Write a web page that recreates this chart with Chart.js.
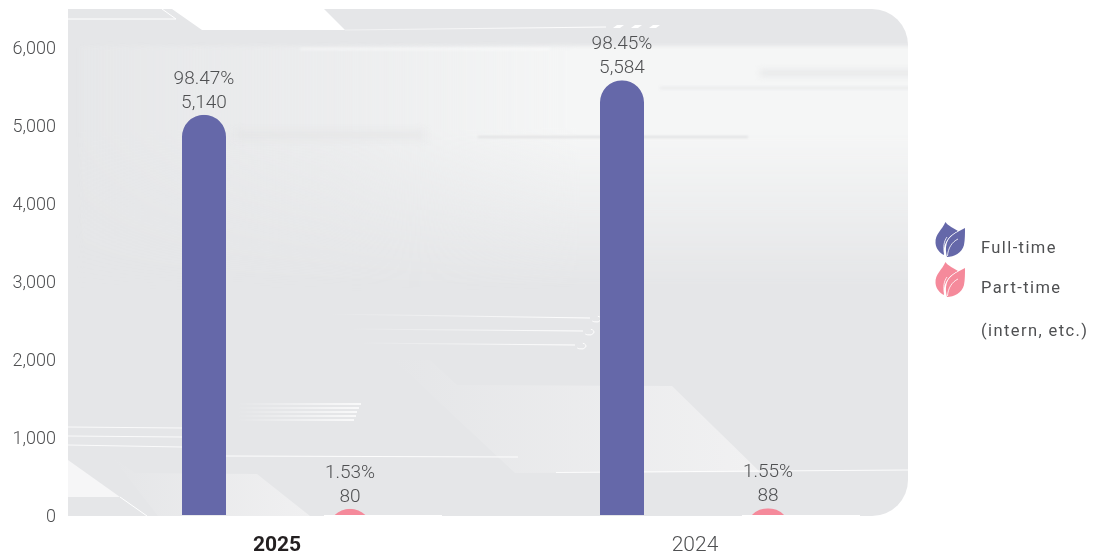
<!DOCTYPE html>
<html>
<head>
<meta charset="utf-8">
<title>Employees by contract type</title>
<script src="https://cdn.jsdelivr.net/npm/chart.js@4"></script>
<style>
  html, body { margin: 0; background: #fff; }
  canvas { display: block; }
</style>
</head>
<body>
<canvas id="chartStaff" width="1095" height="555"></canvas>
<script>
// data
const years = ['2025', '2024'];
const fullTime = [5140, 5584];
const partTime = [80, 88];
const fullTimeShare = ['98.47%', '98.45%'];
const partTimeShare = ['1.53%', '1.55%'];
const yTicks = [0, 1000, 2000, 3000, 4000, 5000, 6000];
const legendLines = [['Full-time'], ['Part-time', '(intern, etc.)']];

const PURPLE = '#6568a9';
const PINK = '#f58a9b';
const TEXT = '#4f5052';
const FONT = 'Roboto, sans-serif';

function poly(ctx, pts, fill) {
  ctx.beginPath();
  pts.forEach((p, i) => i ? ctx.lineTo(p[0], p[1]) : ctx.moveTo(p[0], p[1]));
  ctx.closePath();
  ctx.fillStyle = fill;
  ctx.fill();
}

function hair(ctx, x1, y1, x2, y2, w, color) {
  ctx.beginPath();
  ctx.moveTo(x1, y1);
  ctx.lineTo(x2, y2);
  ctx.lineWidth = w;
  ctx.strokeStyle = color;
  ctx.stroke();
}

function fadeX(ctx, x1, x2, from, to) {
  const g = ctx.createLinearGradient(x1, 0, x2, 0);
  g.addColorStop(0, from);
  g.addColorStop(1, to);
  return g;
}

function blurRect(ctx, blur, x, y, w, h, color) {
  ctx.filter = 'blur(' + blur + 'px)';
  ctx.fillStyle = color;
  ctx.fillRect(x, y, w, h);
  ctx.filter = 'none';
}

// light haze: fades in left to right, fades out downward
function lightBand(ctx) {
  const layer = document.createElement('canvas');
  layer.width = 1095;
  layer.height = 555;
  const c = layer.getContext('2d');
  const across = c.createLinearGradient(80, 0, 580, 0);
  across.addColorStop(0, 'rgba(245,246,246,0.12)');
  across.addColorStop(0.5, 'rgba(245,246,246,0.45)');
  across.addColorStop(1, 'rgba(245,246,246,1)');
  c.fillStyle = across;
  c.fillRect(80, 46, 840, 250);
  c.globalCompositeOperation = 'destination-in';
  const down = c.createLinearGradient(0, 130, 0, 290);
  down.addColorStop(0, 'rgba(0,0,0,1)');
  down.addColorStop(1, 'rgba(0,0,0,0)');
  c.fillStyle = down;
  c.fillRect(0, 0, 1095, 555);
  ctx.filter = 'blur(2px)';
  ctx.drawImage(layer, 0, 0);
  ctx.filter = 'none';
}

// panel behind the plot: grey card with the light streaks and white linework
const panelPlugin = {
  id: 'panel',
  beforeDraw(chart) {
    const ctx = chart.ctx;
    ctx.save();
    ctx.beginPath();
    ctx.roundRect(68, 9, 840, 507, [0, 36, 36, 0]);
    ctx.clip();
    ctx.fillStyle = '#e5e6e8';
    ctx.fillRect(68, 9, 840, 507);

    lightBand(ctx);
    blurRect(ctx, 1.5, 300, 48, 250, 2, 'rgba(255,255,255,0.6)');

    // darker streaks
    blurRect(ctx, 4, 235, 131, 190, 8, 'rgba(226,227,228,0.7)');
    blurRect(ctx, 1, 478, 136, 270, 2, '#e0e1e2');
    blurRect(ctx, 3, 760, 70, 170, 6, '#e6e7e8');
    blurRect(ctx, 1.5, 660, 87, 270, 2, '#e7e8e9');

    // white cut-out along the top
    poly(ctx, [[172, 9], [202, 30], [345, 30], [324, 9]], '#ffffff');
    hair(ctx, 68, 19, 176, 19, 1, '#ffffff');
    hair(ctx, 176, 19, 162, 9, 1, '#ffffff');
    hair(ctx, 345, 30, 606, 27, 1, fadeX(ctx, 345, 606, 'rgba(255,255,255,0.4)', '#ffffff'));
    [613, 631, 649].forEach(x => {
      poly(ctx, [[x, 28], [x + 7, 28], [x + 11, 25], [x + 4, 25]], '#ffffff');
    });

    // bottom-left wedge and angled blocks
    poly(ctx, [[68, 460], [120, 497], [68, 497]], '#f6f6f7');
    hair(ctx, 120, 497, 147, 516, 1, '#ffffff');
    poly(ctx, [[112, 457], [135, 473], [257, 474], [310, 516], [158, 516]],
      fadeX(ctx, 112, 310, '#e5e6e8', '#f0f0f1'));
    poly(ctx, [[394, 360], [430, 360], [457, 385], [672, 386], [760, 472], [515, 473]],
      fadeX(ctx, 394, 760, '#e5e6e8', '#f1f1f2'));

    // thin white rules
    hair(ctx, 68, 427, 182, 428, 1, 'rgba(255,255,255,0.8)');
    hair(ctx, 68, 436, 182, 437, 1, 'rgba(255,255,255,0.8)');
    hair(ctx, 68, 445, 182, 447, 1, 'rgba(255,255,255,0.8)');
    hair(ctx, 226, 456, 518, 457, 1.2, 'rgba(255,255,255,0.9)');
    hair(ctx, 556, 472.5, 908, 470, 1, 'rgba(255,255,255,0.85)');
    [[404, 361], [408, 359], [412, 357], [416, 356], [420, 354]].forEach(s => {
      hair(ctx, 236, s[0], s[1], s[0], 1.4, fadeX(ctx, 236, s[1], 'rgba(255,255,255,0)', '#ffffff'));
    });
    [[325, 314, 590, 318], [345, 329, 583, 331], [355, 343, 575, 345]].forEach(l => {
      hair(ctx, l[0], l[1], l[2], l[3], 1, fadeX(ctx, l[0], l[2], 'rgba(255,255,255,0)', '#ffffff'));
      ctx.beginPath();
      ctx.ellipse(l[2] + 6, l[3] + 1, 5, 3, 0, -1.2, 2.4);
      ctx.lineWidth = 1;
      ctx.strokeStyle = '#ffffff';
      ctx.stroke();
    });

    ctx.restore();
    // white strip sitting on the baseline under the small bars
    ctx.fillStyle = '#ffffff';
    ctx.fillRect(324, 515, 118, 1);
    ctx.fillRect(742, 515, 118, 1);
  }
};

// round-topped bars, radius kept at half the width even when the bar is short
const pillBars = {
  id: 'pillBars',
  beforeDatasetDraw(chart, args) {
    const ctx = chart.ctx;
    const fill = chart.data.datasets[args.index].backgroundColor;
    args.meta.data.forEach(bar => {
      const r = bar.width / 2;
      ctx.save();
      ctx.beginPath();
      ctx.rect(bar.x - r, bar.y, bar.width, bar.base - bar.y);
      ctx.clip();
      ctx.beginPath();
      ctx.arc(bar.x, bar.y + r, r, Math.PI, 0);
      ctx.lineTo(bar.x + r, Math.max(bar.base, bar.y + r));
      ctx.lineTo(bar.x - r, Math.max(bar.base, bar.y + r));
      ctx.closePath();
      ctx.fillStyle = fill;
      ctx.fill();
      ctx.restore();
    });
    return false;
  }
};

// share and headcount stacked over each bar
const valueLabels = {
  id: 'valueLabels',
  afterDatasetsDraw(chart) {
    const ctx = chart.ctx;
    const shares = [fullTimeShare, partTimeShare];
    ctx.save();
    ctx.font = '300 19px ' + FONT;
    ctx.fillStyle = TEXT;
    ctx.textAlign = 'center';
    ctx.textBaseline = 'middle';
    chart.data.datasets.forEach((ds, d) => {
      chart.getDatasetMeta(d).data.forEach((bar, i) => {
        ctx.fillText(shares[d][i], bar.x, bar.y - 36);
        ctx.fillText(ds.data[i].toLocaleString('en-US'), bar.x, bar.y - 12);
      });
    });
    ctx.restore();
  }
};

function drawLeaves(ctx, x, y, color) {
  ctx.save();
  ctx.translate(x, y);
  ctx.fillStyle = color;
  ctx.fill(new Path2D('M10.5 0C7 8 0 12 .5 21C1 27 5 31 9 33C8 25 10 16 23 9C19 6 13 4 10.5 0Z'));
  const front = new Path2D('M30 6C21 11 12 14 11 25C10.6 29 11.5 33 12 35C19 35 27 31 29 23C30 17 30 12 30 6Z');
  ctx.strokeStyle = '#ffffff';
  ctx.lineWidth = 1.4;
  ctx.stroke(front);
  ctx.fill(front);
  ctx.lineWidth = 0.8;
  ctx.stroke(new Path2D('M12.5 34C13 26 17 20 23 17'));
  ctx.stroke(new Path2D('M9.5 31C8 25 9 19 12 15'));
  ctx.restore();
}

// legend on the right, leaf icon per series
const leafLegend = {
  id: 'leafLegend',
  afterDraw(chart) {
    const ctx = chart.ctx;
    ctx.save();
    ctx.font = '400 16.5px ' + FONT;
    ctx.letterSpacing = '1.4px';
    ctx.fillStyle = TEXT;
    ctx.textBaseline = 'middle';
    ctx.textAlign = 'left';
    drawLeaves(ctx, 935, 222, chart.data.datasets[0].backgroundColor);
    drawLeaves(ctx, 935, 262, chart.data.datasets[1].backgroundColor);
    ctx.fillText(legendLines[0][0], 981, 249);
    ctx.fillText(legendLines[1][0], 981, 289);
    ctx.fillText(legendLines[1][1], 981, 332);
    ctx.restore();
  }
};

new Chart(document.getElementById('chartStaff').getContext('2d'), {
  type: 'bar',
  data: {
    labels: years,
    datasets: [
      { label: 'Full-time', data: fullTime, backgroundColor: PURPLE },
      { label: 'Part-time', data: partTime, backgroundColor: PINK }
    ]
  },
  plugins: [panelPlugin, pillBars, valueLabels, leafLegend],
  options: {
    responsive: false,
    animation: false,
    categoryPercentage: 0.6986,
    barPercentage: 0.3014,
    layout: { padding: { top: 9, right: 191, left: 0, bottom: 0 } },
    plugins: { legend: { display: false }, tooltip: { enabled: false } },
    scales: {
      x: {
        grid: { display: false, tickLength: 0 },
        border: { display: false },
        afterFit: s => { s.height = 40; s.paddingLeft = 0; s.paddingRight = 0; },
        ticks: {
          padding: 18,
          maxRotation: 0,
          color: c => c.index === 0 ? '#231f20' : TEXT,
          font: c => c.index === 0
            ? { family: FONT, size: 21, weight: '700' }
            : { family: FONT, size: 21, weight: '300' }
        }
      },
      y: {
        min: 0,
        max: 6500,
        grid: { display: false, tickLength: 0 },
        border: { display: false },
        afterFit: s => { s.width = 68; s.paddingTop = 0; s.paddingBottom = 0; },
        afterBuildTicks: s => { s.ticks = yTicks.map(v => ({ value: v })); },
        ticks: {
          padding: 12,
          labelOffset: 2,
          color: TEXT,
          font: { family: FONT, size: 18, weight: '300' },
          callback: v => v.toLocaleString('en-US')
        }
      }
    }
  }
});
</script>
</body>
</html>
